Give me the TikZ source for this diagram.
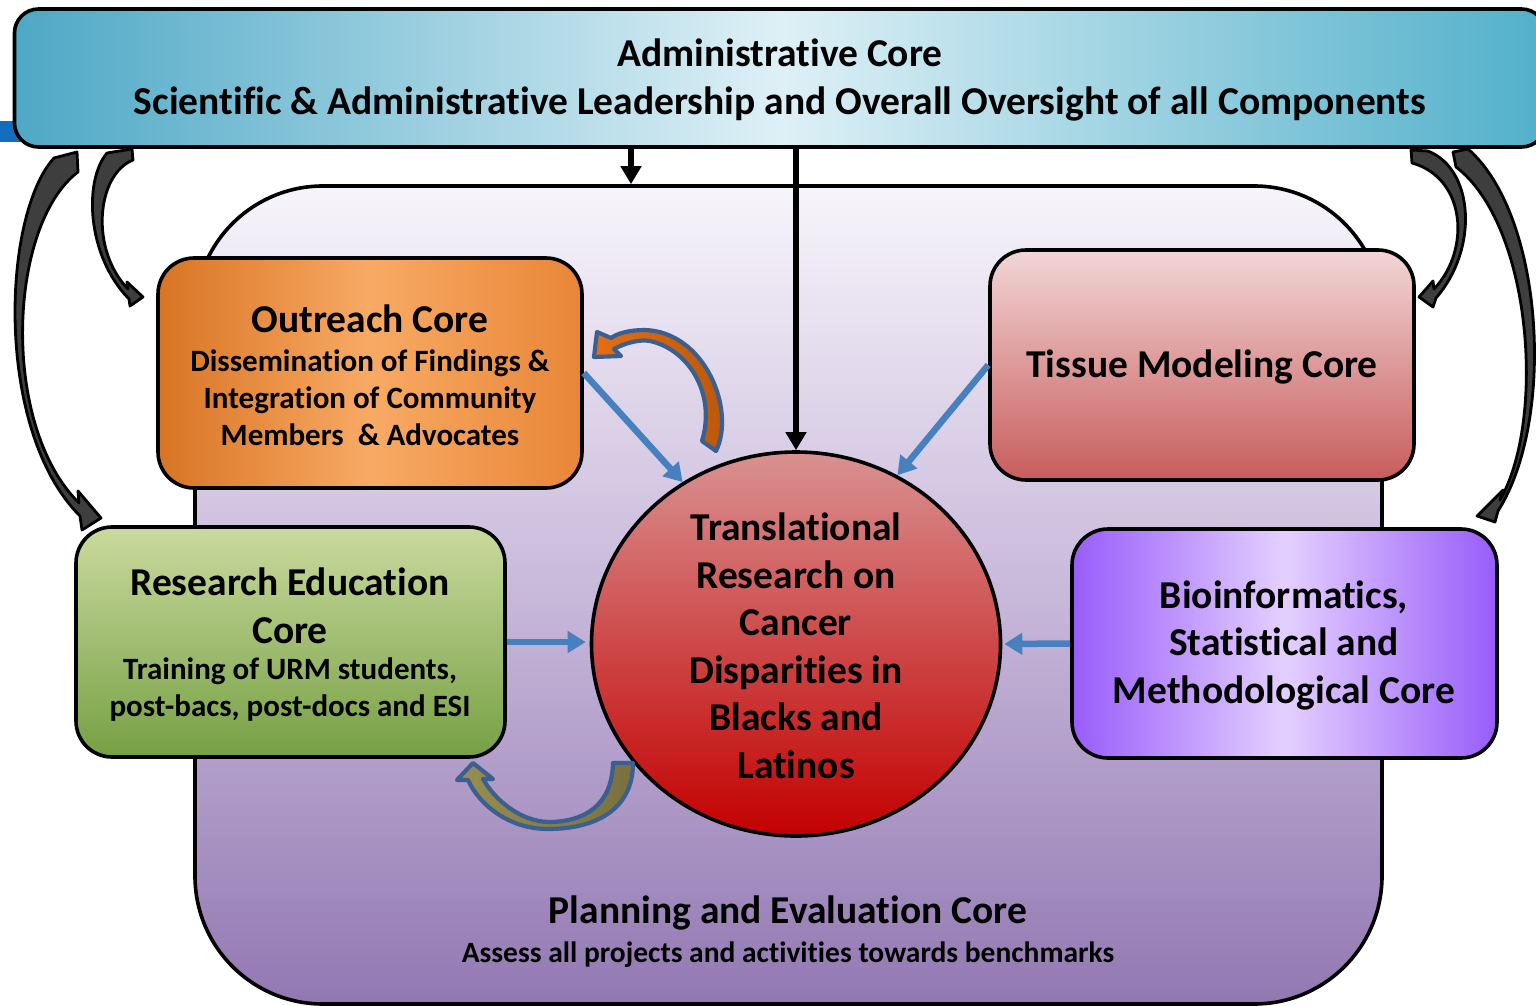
\documentclass[tikz,border=0pt]{standalone}
\usepackage{fontspec}
\setmainfont{Carlito}[RawFeature=-liga,RawFeature=-clig,RawFeature=-calt,RawFeature=-dlig]
\usetikzlibrary{arrows.meta,shapes.geometric}

\definecolor{stripeblue}{RGB}{20,110,190}
\definecolor{admside}{RGB}{78,168,198}
\definecolor{admmid}{RGB}{222,240,246}
\definecolor{admside2}{RGB}{82,176,202}
\definecolor{planlight}{RGB}{247,245,251}
\definecolor{planmid}{RGB}{200,184,218}
\definecolor{plandark}{RGB}{146,120,178}
\definecolor{orngdark}{RGB}{216,116,36}
\definecolor{orngmid}{RGB}{248,170,100}
\definecolor{orngside}{RGB}{232,134,56}
\definecolor{tisslight}{RGB}{242,214,214}
\definecolor{tissdark}{RGB}{200,92,92}
\definecolor{edulight}{RGB}{202,218,158}
\definecolor{edudark}{RGB}{118,160,68}
\definecolor{bioside}{RGB}{152,92,250}
\definecolor{biomid}{RGB}{228,208,255}
\definecolor{circtop}{RGB}{217,145,145}
\definecolor{circbot}{RGB}{195,0,0}
\definecolor{feedblue}{RGB}{70,128,190}
\definecolor{ringblue}{RGB}{58,96,146}
\definecolor{ringorange}{RGB}{230,110,16}
\definecolor{ringrust}{RGB}{184,86,10}
\definecolor{ringolive}{RGB}{152,142,80}
\definecolor{ringolive2}{RGB}{122,112,62}
\definecolor{swoopgray}{RGB}{62,62,62}

\begin{document}
\begin{tikzpicture}[x=1pt,y=-1pt,
  core/.style={draw=black, line width=3.6pt, rounded corners=36pt, inner sep=0pt},
  corefont/.style={font=\fontsize{39.5}{47.5}\selectfont\bfseries, align=center},
  subfont/.style={font=\fontsize{31}{37}\selectfont\bfseries, align=center},
  feed/.style={draw=feedblue, line width=6.5pt, -{Triangle[length=18pt,width=21pt]}},
  drop/.style={draw=black, line width=6pt, -{Triangle[length=18pt,width=20pt]}},
  swoop/.style={draw=black, line width=2.8pt, fill=swoopgray, line join=round},
  ring/.style={draw=ringblue, line width=4.2pt, line join=round}
]
\useasboundingbox (0,0) rectangle (1536,1006);

% Blue stripe behind the top box
\fill[stripeblue] (0,121) rectangle (40,142);

% Administrative core
\node[core, rounded corners=24pt, minimum width=1531pt, minimum height=138pt,
  left color=admside, right color=admside2, middle color=admmid] (admin) at (780,78) {};
\node[corefont, font=\fontsize{39.5}{48}\selectfont\bfseries] (admintxt) at (780,80)
  {Administrative Core\\Scientific \& Administrative Leadership and Overall Oversight of all Components};

% Planning and evaluation core (the big box)
\node[core, rounded corners=128pt, minimum width=1187pt, minimum height=818pt,
  top color=planlight, bottom color=plandark, middle color=planmid] (plan) at (788.5,595) {};
\node[corefont] (plantxt) at (788,913) {Planning and Evaluation Core};
\node[subfont, font=\fontsize{29.5}{34}\selectfont\bfseries] (plansub) at (788,955)
  {Assess all projects and activities towards benchmarks};

% Inner cores
\node[core, minimum width=424pt, minimum height=230pt,
  left color=orngdark, right color=orngside, middle color=orngmid] (outreach) at (370,373) {};
\node[corefont] (outtxt) at (370,319) {Outreach Core};
\node[subfont] (outsub) at (370,398)
  {Dissemination of Findings \&\\Integration of Community\\Members~ \& Advocates};

\node[core, minimum width=424pt, minimum height=230pt, shading angle=-35,
  top color=tisslight, bottom color=tissdark] (tissue) at (1202,365) {};
\node[corefont] (tisstxt) at (1202,367) {Tissue Modeling Core};

\node[core, minimum width=429pt, minimum height=230pt,
  top color=edulight, bottom color=edudark] (edu) at (290.5,642) {};
\node[corefont] (edutxt) at (290,606) {Research Education\\Core};
\node[subfont] (edusub) at (290,690) {Training of URM students,\\post-bacs, post-docs and ESI};

\node[core, minimum width=425pt, minimum height=229pt,
  left color=bioside, right color=bioside, middle color=biomid] (bio) at (1284.5,643.5) {};
\node[corefont] (biotxt) at (1284,645) {Bioinformatics,\\Statistical and\\Methodological Core};

% Central circle
\node[ellipse, draw=black, line width=3.6pt, minimum width=409pt, minimum height=384pt,
  inner sep=0pt, top color=circtop, bottom color=circbot] (circ) at (796,644) {};
\node[corefont] (circtxt) at (796,646)
  {Translational\\Research on\\Cancer\\Disparities in\\Blacks and\\Latinos};

% Straight arrows from the top box
\draw[drop] ([xshift=-149pt]admin.south) -- ([xshift=-149pt]admin.south |- plan.north);
\draw[drop] (admin.south -| circ.north) -- (circ.north);

% Blue arrows into the circle
\draw[feed] (outreach.east) -- (circ.125);
\draw[feed] (tissue.west) -- (circ.59);
\draw[feed, shorten >=4pt] (edu.east) -- (edu.east -| circ.west);
\draw[feed, shorten >=2pt] (bio.west) -- (circ.east);

% Curved arrows on the left
\filldraw[swoop] (54,158) -- (77,152) -- (78,172)
  .. controls (8,225) and (0,425) .. (79,503)
  -- (78,491) -- (101,518) -- (82,530) -- (80,516)
  .. controls (-6,430) and (2,215) .. (54,158) -- cycle;
\filldraw[swoop] (107,153) -- (132,149) -- (133,160)
  .. controls (96,175) and (90,250) .. (128,289)
  -- (127,282) -- (143,297) -- (130,306) -- (129,299)
  .. controls (86,255) and (84,180) .. (107,153) -- cycle;

% Curved arrows on the right
\filldraw[swoop] (1411,150) -- (1428,151)
  .. controls (1475,170) and (1478,250) .. (1436,298)
  -- (1433,307) -- (1419,297) -- (1433,281) -- (1434,289)
  .. controls (1471,250) and (1466,178) .. (1412,163) -- cycle;
\filldraw[swoop] (1453,152) -- (1468,149)
  .. controls (1544,215) and (1556,420) .. (1498,511)
  -- (1495,522) -- (1477,516) -- (1503,490) -- (1500,500)
  .. controls (1546,420) and (1532,225) .. (1456,167) -- cycle;

% Orange loop beside the outreach core
\shadedraw[ring, left color=ringorange, right color=ringrust]
  (702,441) -- (716,451)
  .. controls (736,410) and (705,332) .. (645,330)
  .. controls (630,330) and (618,333) .. (611,338)
  -- (597,332) -- (594,357) -- (621,356) -- (614,349)
  .. controls (625,343) and (640,339) .. (650,341)
  .. controls (690,350) and (716,395) .. (702,441) -- cycle;

% Olive loop under the education core
\shadedraw[ring, left color=ringolive, right color=ringolive2]
  (613,763) -- (633,763)
  .. controls (633,810) and (595,829) .. (548,829)
  .. controls (510,829) and (480,806) .. (468,780)
  -- (457,780) -- (473,763) -- (493,779) -- (483,779)
  .. controls (495,800) and (520,821) .. (548,822)
  .. controls (585,822) and (612,805) .. (613,763) -- cycle;

\end{tikzpicture}
\end{document}
